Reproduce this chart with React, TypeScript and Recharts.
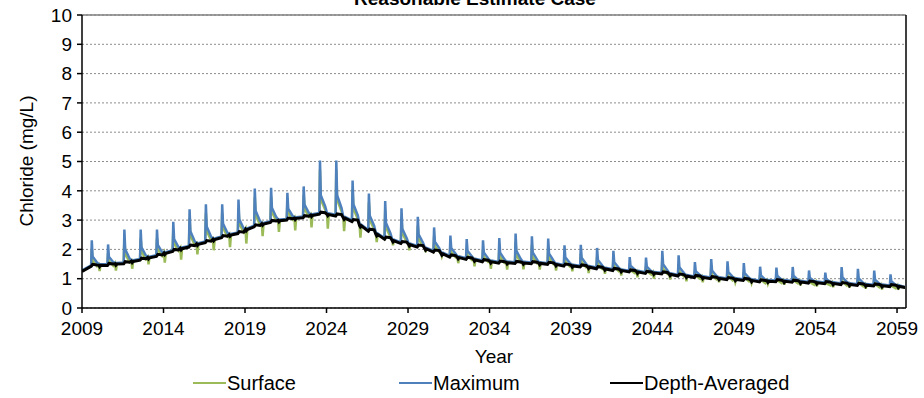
import React from 'react';
import { LineChart, Line, XAxis, YAxis, CartesianGrid, ReferenceLine, Legend, Customized } from 'recharts';

const years = [
  2009, 2010, 2011, 2012, 2013, 2014, 2015, 2016, 2017, 2018,
  2019, 2020, 2021, 2022, 2023, 2024, 2025, 2026, 2027, 2028,
  2029, 2030, 2031, 2032, 2033, 2034, 2035, 2036, 2037, 2038,
  2039, 2040, 2041, 2042, 2043, 2044, 2045, 2046, 2047, 2048,
  2049, 2050, 2051, 2052, 2053, 2054, 2055, 2056, 2057, 2058,
  2059,
];

// Maximum: yearly peak (late summer), value just after the peak, value late in the year
const maxPeak = [
  2.31, 2.17, 2.68, 2.68, 2.68, 2.94, 3.37, 3.54, 3.54, 3.7,
  4.08, 4.1, 3.93, 4.15, 5.03, 5.03, 4.35, 3.91, 3.65, 3.4,
  3.11, 2.75, 2.47, 2.35, 2.31, 2.39, 2.54, 2.45, 2.37, 2.14,
  2.16, 2.05, 1.95, 1.74, 1.72, 1.95, 1.8, 1.57, 1.67, 1.59,
  1.53, 1.41, 1.38, 1.4, 1.28, 1.21, 1.4, 1.34, 1.28, 1.15,
  null,
];
const maxShoulder = [
  1.76, 1.75, 2.0, 2.07, 2.15, 2.35, 2.62, 2.78, 2.88, 3.03,
  3.32, 3.42, 3.39, 3.53, 3.85, 3.85, 3.54, 3.16, 2.9, 2.7,
  2.51, 2.26, 2.05, 1.95, 1.89, 1.89, 1.95, 1.9, 1.86, 1.73,
  1.72, 1.64, 1.56, 1.44, 1.41, 1.49, 1.39, 1.26, 1.28, 1.23,
  1.19, 1.11, 1.1, 1.1, 1.03, 0.99, 1.05, 1.01, 0.97, 0.91,
  null,
];
const maxLate = [
  1.55, 1.56, 1.69, 1.79, 1.9, 2.08, 2.27, 2.43, 2.57, 2.71,
  2.97, 3.1, 3.14, 3.24, 3.47, 3.42, 3.16, 2.81, 2.55, 2.38,
  2.23, 2.04, 1.85, 1.76, 1.69, 1.66, 1.67, 1.65, 1.62, 1.54,
  1.51, 1.45, 1.38, 1.31, 1.26, 1.28, 1.2, 1.12, 1.1, 1.06,
  1.03, 0.97, 0.97, 0.96, 0.91, 0.89, 0.89, 0.86, 0.83, 0.79,
  null,
];
// Depth-Averaged: level just before each yearly peak
const depthAvg = [
  1.42, 1.45, 1.51, 1.63, 1.76, 1.93, 2.08, 2.23, 2.4, 2.54,
  2.77, 2.92, 3.0, 3.08, 3.2, 3.14, 2.95, 2.62, 2.35, 2.2,
  2.08, 1.91, 1.74, 1.66, 1.58, 1.53, 1.52, 1.51, 1.49, 1.43,
  1.4, 1.34, 1.28, 1.23, 1.18, 1.16, 1.09, 1.04, 1.0, 0.97,
  0.94, 0.89, 0.9, 0.88, 0.85, 0.83, 0.8, 0.77, 0.75, 0.73,
  0.7,
];
// Surface: winter low at the start of each year
const surfaceDip = [
  null, 1.26, 1.28, 1.34, 1.49, 1.55, 1.65, 1.83, 1.97, 2.08,
  2.2, 2.45, 2.6, 2.65, 2.75, 2.71, 2.62, 2.4, 2.25, 2.14,
  1.97, 1.91, 1.76, 1.53, 1.42, 1.34, 1.31, 1.32, 1.31, 1.28,
  1.25, 1.19, 1.17, 1.11, 1.05, 1.0, 0.97, 0.91, 0.88, 0.88,
  0.88, 0.85, 0.83, 0.8, 0.77, 0.74, 0.71, 0.69, 0.66, 0.63,
  0.63,
];
const startValue = 1.25;
const endYear = 2059.5;

const xTicks = [2009, 2014, 2019, 2024, 2029, 2034, 2039, 2044, 2049, 2054, 2059];
const yTicks = [0, 1, 2, 3, 4, 5, 6, 7, 8, 9, 10];

type Row = { t: number; surface: number; maximum: number; depth: number };

function buildRows(): Row[] {
  const rows: Row[] = [];
  for (let i = 0; i < years.length; i++) {
    const Y = years[i];
    const D = depthAvg[i];
    if (i === 0) {
      rows.push({ t: Y, depth: startValue, maximum: startValue + 0.03, surface: startValue });
    } else {
      const B0 = (depthAvg[i - 1] + D) / 2 + 0.03;
      rows.push({ t: Y + 0.03, depth: B0, maximum: B0 + 0.04, surface: B0 + 0.02 });
      rows.push({ t: Y + 0.08, depth: B0 - 0.05, maximum: B0 + 0.01, surface: surfaceDip[i] as number });
      rows.push({ t: Y + 0.14, depth: B0 - 0.01, maximum: B0 + 0.03, surface: B0 });
    }
    const P = maxPeak[i];
    if (P == null) {
      rows.push({ t: endYear, depth: D, maximum: D + 0.01, surface: D });
      continue;
    }
    const S = maxShoulder[i] as number;
    const L = maxLate[i] as number;
    rows.push({ t: Y + 0.56, depth: D, maximum: D + 0.04, surface: D + 0.02 });
    rows.push({ t: Y + 0.6, depth: D + 0.03, maximum: P, surface: P - 0.3 });
    rows.push({ t: Y + 0.65, depth: D + 0.07, maximum: S, surface: S - 0.15 });
    rows.push({ t: Y + 0.92, depth: D + 0.05, maximum: L, surface: L - 0.12 });
  }
  return rows;
}

const data = buildRows();

const FONT = '"Liberation Sans", Arial, sans-serif';
const legendOrder = ['Surface', 'Maximum', 'Depth-Averaged'];
const legendX = [193, 399, 610];

function LegendContent(props: any) {
  const payload = props.payload || [];
  return (
    <div style={{ position: 'relative', width: 924, height: 22, fontFamily: FONT, fontSize: 20, color: '#000' }}>
      {payload.map((p: any) => {
        const idx = legendOrder.indexOf(p.value);
        return (
          <div key={p.value} style={{ position: 'absolute', left: legendX[idx], top: 0, display: 'flex', alignItems: 'center', height: 22 }}>
            <div style={{ width: 33, height: 2.5, background: p.color }} />
            <span style={{ marginLeft: 1, whiteSpace: 'nowrap' }}>{p.value}</span>
          </div>
        );
      })}
    </div>
  );
}

function Decorations() {
  return (
    <g fontFamily={FONT}>
      <text x={475} y={5} textAnchor="middle" fontSize={19} fontWeight="bold" fill="#000">
        Reasonable Estimate Case
      </text>
      <text x={0} y={0} transform="translate(33,161) rotate(-90)" textAnchor="middle" fontSize={19} fill="#000">
        Chloride (mg/L)
      </text>
      <text x={494} y={363} textAnchor="middle" fontSize={19} fill="#000">
        Year
      </text>
    </g>
  );
}

export default function App() {
  return (
    <div style={{ position: 'absolute', left: 0, top: 0, background: '#fff' }}>
      <LineChart width={924} height={398} data={data} margin={{ top: 15, right: 18, left: 0, bottom: 0 }}>
        <CartesianGrid vertical={false} stroke="#8c8c8c" strokeDasharray="2 2" />
        <XAxis
          dataKey="t"
          type="number"
          domain={[2009, 2059.55]}
          ticks={xTicks}
          allowDataOverflow
          height={90}
          tickSize={5}
          tickMargin={9}
          stroke="#000"
          strokeWidth={1.5}
          tick={{ fill: '#000', fontSize: 19, fontFamily: FONT }}
        />
        <YAxis
          type="number"
          domain={[0, 10]}
          ticks={yTicks}
          width={82}
          tickSize={5}
          tickMargin={5}
          stroke="#000"
          strokeWidth={1.5}
          tick={{ fill: '#000', fontSize: 19, fontFamily: FONT }}
        />
        <ReferenceLine y={10} stroke="#7f7f7f" strokeWidth={1.5} />
        <ReferenceLine x={2059.55} stroke="#000" strokeWidth={1.5} />
        <Line type="linear" dataKey="surface" name="Surface" stroke="#9BBB59" strokeWidth={2.5} dot={false} isAnimationActive={false} />
        <Line type="linear" dataKey="maximum" name="Maximum" stroke="#4F81BD" strokeWidth={2.5} dot={false} isAnimationActive={false} />
        <Line type="linear" dataKey="depth" name="Depth-Averaged" stroke="#000" strokeWidth={3} dot={false} isAnimationActive={false} />
        <Legend
          layout="horizontal"
          verticalAlign="middle"
          align="center"
          content={<LegendContent />}
          wrapperStyle={{ top: 372, left: 0, width: 924, height: 22 }}
        />
        <Customized component={<Decorations />} />
      </LineChart>
    </div>
  );
}
